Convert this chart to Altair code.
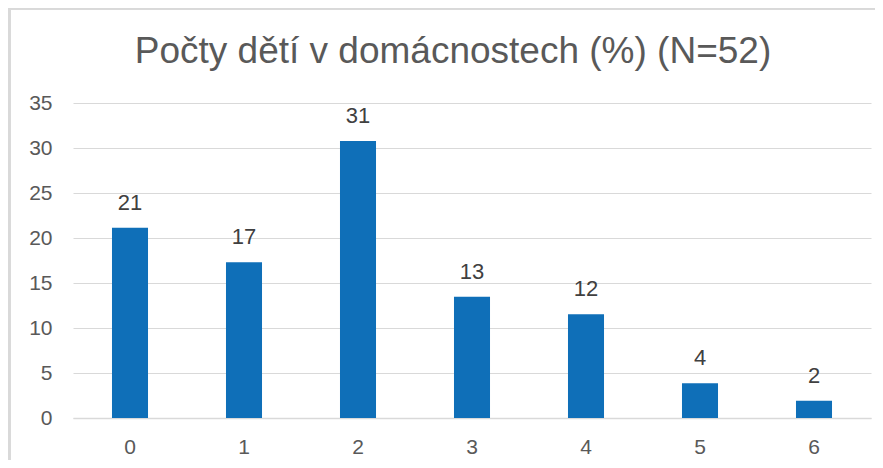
import altair as alt
import pandas as pd

categories = ["0", "1", "2", "3", "4", "5", "6"]
values = [21.15, 17.31, 30.77, 13.46, 11.54, 3.85, 1.92]
labels = ["21", "17", "31", "13", "12", "4", "2"]
title_text = ["Počty dětí v domácnostech (%) (N=52)"]

df = pd.DataFrame({"cat": categories, "val": values, "lab": labels})
tdf = pd.DataFrame({"t": title_text})

x = alt.X("cat:N", sort=categories, title=None,
          scale=alt.Scale(paddingInner=0.684, paddingOuter=0.342),
          axis=alt.Axis(labelAngle=0, labelFontSize=21, labelColor="#595959",
                        labelFont="Liberation Sans", labelPadding=18,
                        domainColor="#d9d9d9", domainWidth=1.5, ticks=False))
y = alt.Y("val:Q", title=None,
          scale=alt.Scale(domain=[0, 35], nice=False),
          axis=alt.Axis(values=[0, 5, 10, 15, 20, 25, 30, 35], labelFontSize=21,
                        labelColor="#595959", labelFont="Liberation Sans",
                        labelPadding=21, domain=False, ticks=False,
                        gridColor="#d9d9d9", gridWidth=1.2))

bars = alt.Chart(df).mark_bar(color="#0F6FB8").encode(x=x, y=y)
text = alt.Chart(df).mark_text(dy=-25, fontSize=22, color="#404040",
                               font="Liberation Sans").encode(
    x=alt.X("cat:N", sort=categories), y="val:Q", text="lab:N")

title = alt.Chart(tdf).mark_text(fontSize=37, color="#595959", font="Liberation Sans",
                                 baseline="middle", align="center", clip=False).encode(
    x=alt.value(380), y=alt.value(-51), text="t:N")

border_left = alt.Chart(df).mark_rule(color="#d9d9d9", strokeWidth=3, clip=False).encode(
    x=alt.value(-64), y=alt.value(-95), y2=alt.value(380))
border_top = alt.Chart(df).mark_rule(color="#d9d9d9", strokeWidth=3, clip=False).encode(
    x=alt.value(-64), x2=alt.value(820), y=alt.value(-95))

chart = alt.layer(border_left, border_top, bars, text, title).properties(
    width=798, height=315,
    padding={"left": 65, "top": 95, "right": 4, "bottom": 42},
    autosize=alt.AutoSizeParams(type="none"),
).configure_view(stroke=None)

chart.save("out.html", embed_options={"renderer": "svg", "actions": False})
